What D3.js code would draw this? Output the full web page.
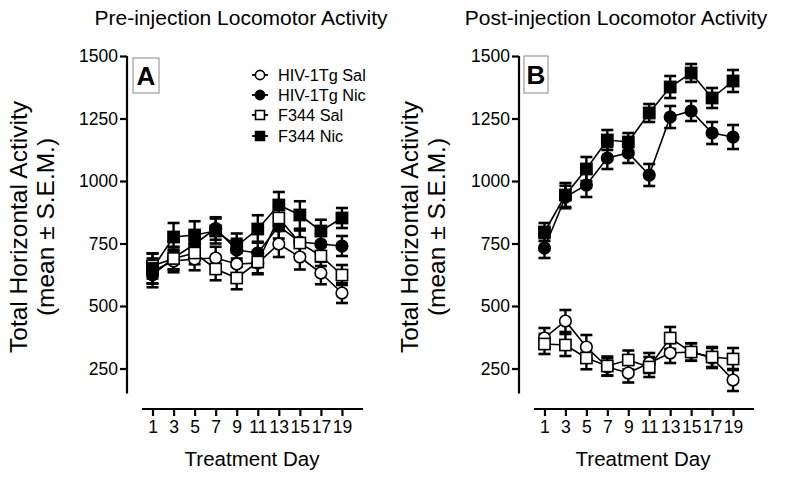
<!DOCTYPE html>
<html><head><meta charset="utf-8">
<script src="https://cdn.jsdelivr.net/npm/d3@7"></script>
<style>body{margin:0;background:#fff}svg{display:block;font-family:"Liberation Sans",Arial,sans-serif}</style>
</head><body><svg id="c" width="800" height="483"></svg>
<script>
const days = [1,3,5,7,9,11,13,15,17,19];
const yTicks = [250,500,750,1000,1250,1500];
const seriesNames = ["HIV-1Tg Sal","HIV-1Tg Nic","F344 Sal","F344 Nic"];
const seriesShapes = ["circle","circle","square","square"];
const seriesFilled = [false,true,false,true];

const preHivSal   = [640,680,688,692,668,672,748,696,632,552];
const preHivNic   = [625,692,748,810,724,712,820,756,748,740];
const preF344Sal  = [660,690,712,648,612,676,852,752,700,624];
const preF344Nic  = [650,776,784,800,740,808,904,864,800,852];
const preHivSalSem  = [50,45,45,45,45,45,52,50,45,40];
const preHivNicSem  = [50,45,45,45,45,45,50,50,40,40];
const preF344SalSem = [50,45,45,45,45,45,50,50,40,40];
const preF344NicSem = [60,56,55,50,50,55,52,55,45,40];

const postHivSal   = [372,440,336,256,232,272,312,316,292,204];
const postHivNic   = [732,936,984,1092,1112,1024,1256,1280,1192,1176];
const postF344Sal  = [348,344,292,260,284,256,372,316,296,288];
const postF344Nic  = [796,944,1048,1164,1156,1272,1376,1432,1332,1400];
const postHivSalSem  = [40,44,48,35,38,40,40,35,40,44];
const postHivNicSem  = [40,45,48,44,40,44,44,40,44,48];
const postF344SalSem = [40,44,45,38,38,40,44,35,40,44];
const postF344NicSem = [36,48,48,40,36,36,44,36,40,44];

const svg = d3.select("#c");

function panel(opts){
  const {x0,x1,yAxisX,title,titleX,letter,letterBox,ytitleX,xtitleX,vals,sems,legend} = opts;
  const x = d3.scaleLinear().domain([0,21]).range([x0,x1]);
  const y = d3.scaleLinear().domain([250,1500]).range([368.5,56]);
  const g = svg.append("g");
  g.append("text").attr("x",titleX).attr("y",25).attr("text-anchor","middle")
    .attr("font-size",21).text(title);
  const ya = g.append("g").attr("transform",`translate(${yAxisX},0)`)
    .call(d3.axisLeft(y).tickValues(yTicks).tickSize(7).tickSizeOuter(0).tickFormat(d3.format("d")));
  ya.select(".domain").remove();
  ya.append("line").attr("x1",0).attr("x2",0).attr("y1",y(1500)).attr("y2",y(150))
    .attr("stroke","#000").attr("stroke-width",2.2);
  ya.selectAll(".tick line").attr("stroke-width",2.2);
  ya.selectAll(".tick text").attr("font-size",17.5).attr("fill","#000")
    .attr("font-family","Liberation Sans, Arial, sans-serif").attr("x",-9);
  const xa = g.append("g").attr("transform","translate(0,409)")
    .call(d3.axisBottom(x).tickValues(days).tickSize(7).tickSizeOuter(0).tickFormat(d3.format("d")));
  xa.select(".domain").remove();
  xa.append("line").attr("x1",x(0)).attr("x2",x(21)).attr("y1",0).attr("y2",0)
    .attr("stroke","#000").attr("stroke-width",2.2);
  xa.selectAll(".tick line").attr("stroke-width",2.2);
  xa.selectAll(".tick text").attr("font-size",17.5).attr("fill","#000")
    .attr("font-family","Liberation Sans, Arial, sans-serif").attr("y",12);
  g.append("text").attr("x",xtitleX).attr("y",466).attr("text-anchor","middle")
    .attr("font-size",20.5).text("Treatment Day");
  const yt = g.append("text").attr("transform",`translate(${ytitleX},227) rotate(-90)`)
    .attr("text-anchor","middle").attr("font-size",24.5);
  yt.append("tspan").attr("x",0).attr("dy",0).text("Total Horizontal Activity");
  yt.append("tspan").attr("x",0).attr("dy",27).text("(mean \u00B1 S.E.M.)");
  g.append("rect").attr("x",letterBox[0]).attr("y",letterBox[1]).attr("width",letterBox[2]).attr("height",letterBox[3])
    .attr("fill","#fff").attr("stroke","#888").attr("stroke-width",1);
  g.append("text").attr("x",letterBox[0]+letterBox[2]/2).attr("y",letterBox[1]+letterBox[3]/2+9)
    .attr("text-anchor","middle").attr("font-size",26).attr("font-weight","bold").text(letter);

  const line = d3.line().x((d,i)=>x(days[i])).y(d=>y(d));
  vals.forEach((v,s)=>{
    g.append("path").attr("d",line(v)).attr("fill","none").attr("stroke","#000").attr("stroke-width",1.6);
  });
  vals.forEach((v,s)=>{
    const eg = g.append("g");
    v.forEach((val,i)=>{
      const cx = x(days[i]), lo = y(val - sems[s][i]), hi = y(val + sems[s][i]);
      eg.append("line").attr("x1",cx).attr("x2",cx).attr("y1",lo).attr("y2",hi).attr("stroke","#000").attr("stroke-width",2.4);
      [lo,hi].forEach(yy=>eg.append("line").attr("x1",cx-6).attr("x2",cx+6).attr("y1",yy).attr("y2",yy).attr("stroke","#000").attr("stroke-width",2.6));
    });
  });
  vals.forEach((v,s)=>{
    v.forEach((val,i)=>drawMarker(g, x(days[i]), y(val), s));
  });
  if(legend){
    const ly = [75,95,115,136];
    seriesNames.forEach((n,s)=>{
      g.append("line").attr("x1",252).attr("x2",268).attr("y1",ly[s]).attr("y2",ly[s]).attr("stroke","#000").attr("stroke-width",1.8);
      drawMarker(g,260,ly[s],s,0.8);
      g.append("text").attr("x",278).attr("y",ly[s]+6).attr("font-size",16.3).text(n);
    });
  }
}

function drawMarker(g,cx,cy,s,sc=1){
  const fill = seriesFilled[s] ? "#000" : "#fff";
  if(seriesShapes[s]==="circle"){
    g.append("circle").attr("cx",cx).attr("cy",cy).attr("r",5.8*sc).attr("fill",fill).attr("stroke","#000").attr("stroke-width",1.6);
  } else {
    const h = 5.6*sc;
    g.append("rect").attr("x",cx-h).attr("y",cy-h).attr("width",2*h).attr("height",2*h).attr("fill",fill).attr("stroke","#000").attr("stroke-width",1.6);
  }
}

panel({x0:142,x1:363,yAxisX:127,title:"Pre-injection Locomotor Activity",titleX:241,letter:"A",
  letterBox:[133,58,26,35],ytitleX:27,xtitleX:252,
  vals:[preHivSal,preHivNic,preF344Sal,preF344Nic],
  sems:[preHivSalSem,preHivNicSem,preF344SalSem,preF344NicSem],legend:true});
panel({x0:534,x1:754,yAxisX:519,title:"Post-injection Locomotor Activity",titleX:616,letter:"B",
  letterBox:[524,56,24,37],ytitleX:418,xtitleX:643,
  vals:[postHivSal,postHivNic,postF344Sal,postF344Nic],
  sems:[postHivSalSem,postHivNicSem,postF344SalSem,postF344NicSem],legend:false});
</script></body></html>
